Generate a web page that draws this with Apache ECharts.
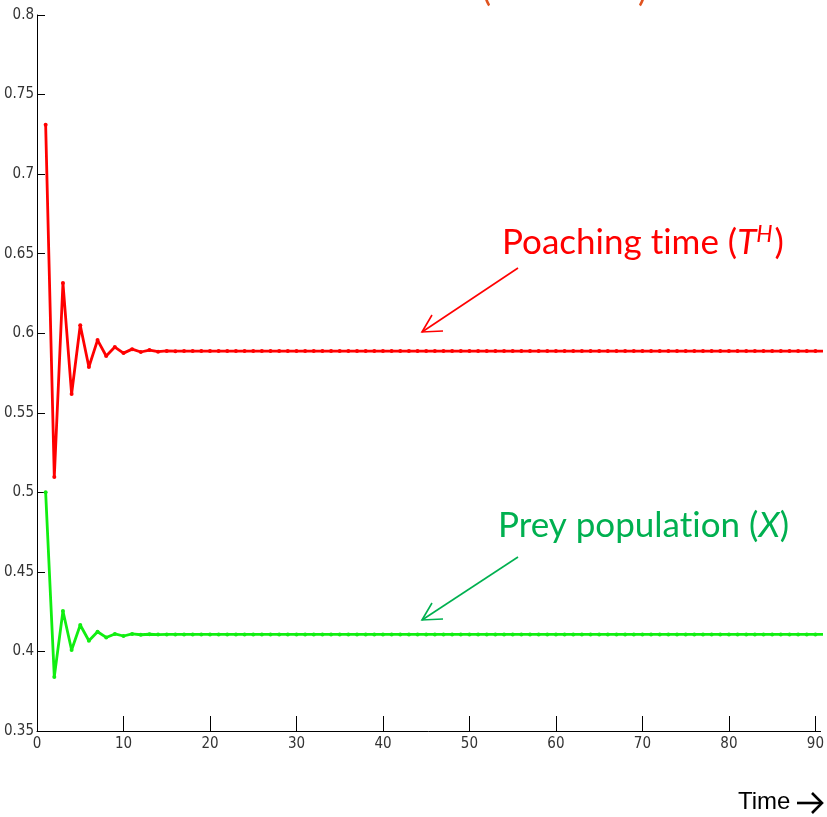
<!DOCTYPE html>
<html>
<head>
<meta charset="utf-8">
<script src="https://cdn.jsdelivr.net/npm/echarts@6/dist/echarts.min.js"></script>
<style>
  html, body { margin: 0; padding: 0; background: #fff; }
  #main { width: 827px; height: 817px; }
</style>
</head>
<body>
<div id="main"></div>
<script>
// values, one per time step starting at t = 1
var poachingTime = [
  0.731, 0.5096, 0.6316, 0.5618, 0.605, 0.5788, 0.5957, 0.5857, 0.5913, 0.5875,
  0.59, 0.5882, 0.5894, 0.5884, 0.5889, 0.5887, 0.5888, 0.5888, 0.5888, 0.5888,
  0.5888, 0.5888, 0.5888, 0.5888, 0.5888, 0.5888, 0.5888, 0.5888, 0.5888, 0.5888,
  0.5888, 0.5888, 0.5888, 0.5888, 0.5888, 0.5888, 0.5888, 0.5888, 0.5888, 0.5888,
  0.5888, 0.5888, 0.5888, 0.5888, 0.5888, 0.5888, 0.5888, 0.5888, 0.5888, 0.5888,
  0.5888, 0.5888, 0.5888, 0.5888, 0.5888, 0.5888, 0.5888, 0.5888, 0.5888, 0.5888,
  0.5888, 0.5888, 0.5888, 0.5888, 0.5888, 0.5888, 0.5888, 0.5888, 0.5888, 0.5888,
  0.5888, 0.5888, 0.5888, 0.5888, 0.5888, 0.5888, 0.5888, 0.5888, 0.5888, 0.5888,
  0.5888, 0.5888, 0.5888, 0.5888, 0.5888, 0.5888, 0.5888, 0.5888, 0.5888, 0.5888,
  0.5888
];
var preyPopulation = [
  0.5, 0.384, 0.4254, 0.4009, 0.4166, 0.4067, 0.4124, 0.4088, 0.411, 0.4097,
  0.411, 0.4105, 0.4108, 0.4106, 0.4107, 0.4107, 0.4107, 0.4107, 0.4107, 0.4107,
  0.4107, 0.4107, 0.4107, 0.4107, 0.4107, 0.4107, 0.4107, 0.4107, 0.4107, 0.4107,
  0.4107, 0.4107, 0.4107, 0.4107, 0.4107, 0.4107, 0.4107, 0.4107, 0.4107, 0.4107,
  0.4107, 0.4107, 0.4107, 0.4107, 0.4107, 0.4107, 0.4107, 0.4107, 0.4107, 0.4107,
  0.4107, 0.4107, 0.4107, 0.4107, 0.4107, 0.4107, 0.4107, 0.4107, 0.4107, 0.4107,
  0.4107, 0.4107, 0.4107, 0.4107, 0.4107, 0.4107, 0.4107, 0.4107, 0.4107, 0.4107,
  0.4107, 0.4107, 0.4107, 0.4107, 0.4107, 0.4107, 0.4107, 0.4107, 0.4107, 0.4107,
  0.4107, 0.4107, 0.4107, 0.4107, 0.4107, 0.4107, 0.4107, 0.4107, 0.4107, 0.4107,
  0.4107
];
var xTicks = [0, 10, 20, 30, 40, 50, 60, 70, 80, 90];

function withTime(values) {
  return values.map(function (v, i) { return [i + 1, v]; });
}

var tickFont = "'Liberation Sans Narrow', 'DejaVu Sans Condensed', sans-serif";
var noteFont = 'Lato';
// zero-width non-joiner keeps Lato from joining "ti" into a ligature
var ZWNJ = '\u200C';

var myChart = echarts.init(document.getElementById('main'));
var option = {
  animation: false,
  backgroundColor: '#fff',
  grid: { left: 37, right: 5, top: 15, bottom: 86, containLabel: false },
  xAxis: {
    type: 'value',
    min: 0,
    max: 90.6,
    interval: 10,
    axisLine: { show: true, onZero: false, lineStyle: { color: '#000', width: 1 } },
    axisTick: { show: true, inside: true, length: 15, customValues: xTicks, lineStyle: { color: '#000' } },
    axisLabel: { customValues: xTicks, color: '#333', fontFamily: tickFont, fontSize: 15, margin: 6 },
    splitLine: { show: false }
  },
  yAxis: {
    type: 'value',
    min: 0.35,
    max: 0.8,
    interval: 0.05,
    axisLine: { show: true, lineStyle: { color: '#000', width: 1 } },
    axisTick: { show: true, inside: true, length: 8, lineStyle: { color: '#000' } },
    axisLabel: {
      color: '#333', fontFamily: tickFont, fontSize: 15, margin: 3,
      formatter: function (v) { return String(Math.round(v * 100) / 100); }
    },
    splitLine: { show: false }
  },
  series: [{
    name: 'Poaching time',
    type: 'line',
    data: withTime(poachingTime),
    symbol: 'circle',
    symbolSize: 4,
    showAllSymbol: true,
    lineStyle: { color: '#ff0000', width: 2.8 },
    itemStyle: { color: '#ff0000' },
    clip: true
  }, {
    name: 'Prey population',
    type: 'line',
    data: withTime(preyPopulation),
    symbol: 'circle',
    symbolSize: 4,
    showAllSymbol: true,
    lineStyle: { color: '#11ee11', width: 2.8 },
    itemStyle: { color: '#11ee11' },
    clip: true
  }],
  graphic: [
    // cut-off heading at the very top
    { type: 'text', left: 482, top: -27, style: { text: '(', fontSize: 34, fontFamily: noteFont, fill: '#e0531f' } },
    { type: 'text', left: 638, top: -27, style: { text: ')', fontSize: 34, fontFamily: noteFont, fill: '#e0531f' } },
    {
      type: 'text', left: 502, top: 223,
      style: {
        text: '{n|Poaching t' + ZWNJ + 'ime (}{i|T}{s|H}{n|)}',
        rich: {
          n: { fontSize: 35, fontFamily: noteFont, fill: '#ff0000' },
          i: { fontSize: 35, fontFamily: noteFont, fill: '#ff0000', fontStyle: 'italic' },
          s: { fontSize: 23, fontFamily: noteFont, fill: '#ff0000', fontStyle: 'italic', padding: [0, 2, 16, 0] }
        }
      }
    },
    { type: 'line', shape: { x1: 518, y1: 268, x2: 422, y2: 332 }, style: { stroke: '#ff0000', lineWidth: 1.6 } },
    { type: 'polyline', shape: { points: [[432, 315], [422, 332], [443, 331]] }, style: { stroke: '#ff0000', lineWidth: 1.6, fill: null } },
    {
      type: 'text', left: 498, top: 508,
      style: {
        text: '{n|Prey popula' + 't' + ZWNJ + 'ion (}{i|X}{n|)}',
        rich: {
          n: { fontSize: 35, fontFamily: noteFont, fill: '#00b050' },
          i: { fontSize: 35, fontFamily: noteFont, fill: '#00b050', fontStyle: 'italic' }
        }
      }
    },
    { type: 'line', shape: { x1: 518, y1: 557, x2: 422, y2: 620 }, style: { stroke: '#00b050', lineWidth: 1.6 } },
    { type: 'polyline', shape: { points: [[432, 603], [422, 620], [443, 619]] }, style: { stroke: '#00b050', lineWidth: 1.6, fill: null } },
    { type: 'text', left: 738, top: 790, style: { text: 'Time', fontSize: 24, fontFamily: "'Liberation Sans', Arial, sans-serif", fill: '#000' } },
    { type: 'line', shape: { x1: 797, y1: 803, x2: 822, y2: 803 }, style: { stroke: '#000', lineWidth: 2.6 } },
    { type: 'polyline', shape: { points: [[812, 793], [822, 803], [812, 813]] }, style: { stroke: '#000', lineWidth: 2.6, fill: null } }
  ]
};

myChart.setOption(option);
</script>
</body>
</html>
